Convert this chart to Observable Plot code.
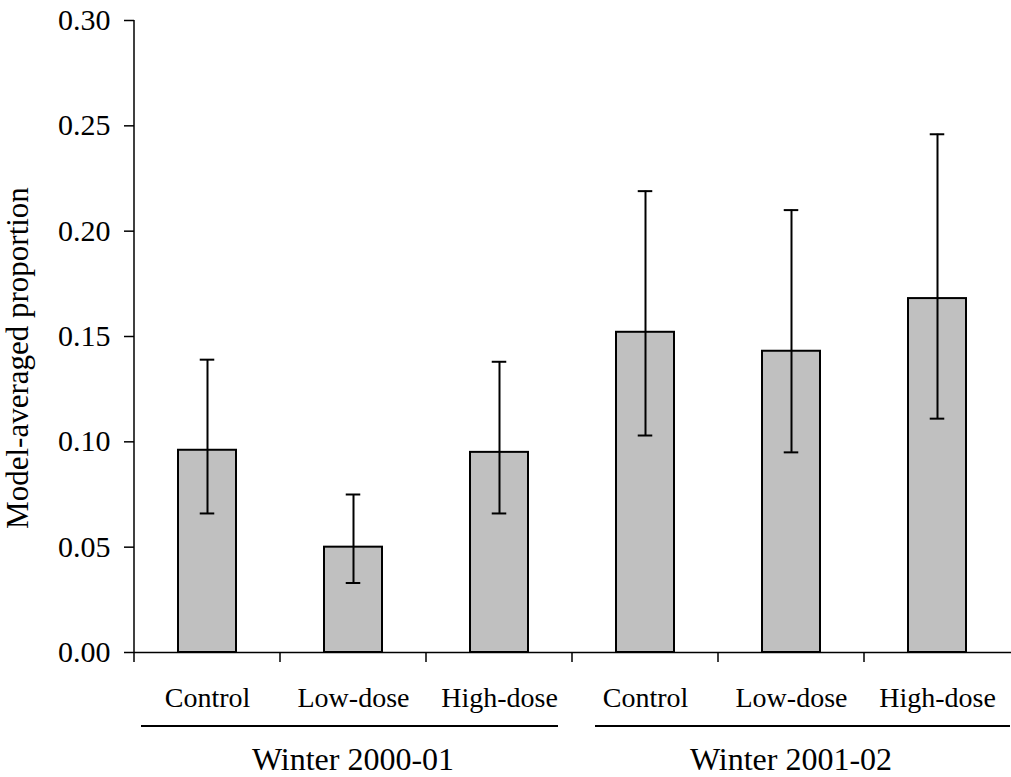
<!DOCTYPE html>
<html><head><meta charset="utf-8">
<script src="https://cdn.jsdelivr.net/npm/d3@7"></script>
<script src="https://cdn.jsdelivr.net/npm/@observablehq/plot@0.6"></script>
<style>
body{margin:0;background:#fff}
#chart svg{font-family:"Liberation Serif","Times New Roman",serif;}
</style>
</head><body><div id="chart"></div>
<script>
const winters = ["Winter 2000-01","Winter 2000-01","Winter 2000-01","Winter 2001-02","Winter 2001-02","Winter 2001-02"];
const treatments = ["Control","Low-dose","High-dose","Control","Low-dose","High-dose"];
const proportions = [0.096, 0.050, 0.095, 0.152, 0.143, 0.168];
const lowerCI = [0.066, 0.033, 0.066, 0.103, 0.095, 0.111];
const upperCI = [0.139, 0.075, 0.138, 0.219, 0.210, 0.246];
const yTicks = [0, 0.05, 0.10, 0.15, 0.20, 0.25, 0.30];
const groupNames = ["Winter 2000-01", "Winter 2001-02"];
const yTitle = "Model-averaged proportion";

const data = treatments.map((t, i) => ({
  key: winters[i] + "|" + t, winter: winters[i], treatment: t,
  p: proportions[i], lo: lowerCI[i], hi: upperCI[i]
}));

const W = 1011, H = 777, ML = 134, MT = 20, MB = 125, MR = 0;
const step = (W - ML - MR) / data.length;
const bandW = step * 0.4;
const capInset = (bandW - 15) / 2;

const chart = Plot.plot({
  width: W, height: H,
  marginLeft: ML, marginTop: MT, marginBottom: MB, marginRight: MR,
  style: {fontFamily: '"Liberation Serif","Times New Roman",serif', background: "#fff", color: "#000"},
  x: {domain: data.map(d => d.key), paddingInner: 0.6, paddingOuter: 0.3, label: null},
  y: {domain: [0, 0.30], label: null},
  marks: [
    Plot.barY(data, {x: "key", y: "p", fill: "#c0c0c0", stroke: "#000", strokeWidth: 2}),
    Plot.ruleX(data, {x: "key", y1: "lo", y2: "hi", stroke: "#000", strokeWidth: 2}),
    Plot.tickY(data, {x: "key", y: "hi", stroke: "#000", strokeWidth: 2, insetLeft: capInset, insetRight: capInset}),
    Plot.tickY(data, {x: "key", y: "lo", stroke: "#000", strokeWidth: 2, insetLeft: capInset, insetRight: capInset}),
    Plot.ruleY([0], {stroke: "#000", strokeWidth: 1.5}),
    Plot.axisY({className: "yax", ticks: yTicks, tickFormat: d => d.toFixed(2), tickSize: 10, tickPadding: 14, fontSize: 30, label: null, stroke: "#000", strokeWidth: 1.5}),
    Plot.axisX({className: "xax", tickSize: 0, tickPadding: 35, fontSize: 28, tickFormat: k => k.split("|")[1], label: null})
  ]
});

const svg = d3.select(chart);
svg.selectAll(".yax text, .yax").attr("font-size", 30);
svg.selectAll(".xax text, .xax").attr("font-size", 28);
const sx = chart.scale("x"), sy = chart.scale("y");
const xs = sx.step;
const center = k => sx.apply(k) + sx.bandwidth / 2;
const y0 = sy.apply(0), yTop = sy.apply(0.30);

// y-axis line
svg.append("line").attr("x1", ML).attr("x2", ML).attr("y1", yTop).attr("y2", y0)
  .attr("stroke", "#000").attr("stroke-width", 1.5);

// category boundary ticks
data.forEach(d => {
  const bx = center(d.key) - xs / 2;
  svg.append("line").attr("x1", bx).attr("x2", bx).attr("y1", y0).attr("y2", y0 + 10)
    .attr("stroke", "#000").attr("stroke-width", 1.5);
});

// group underlines and labels
const insets = [[7, 14], [23, 0]];
groupNames.forEach((g, gi) => {
  const keys = data.filter(d => d.winter === g).map(d => d.key);
  const start = center(keys[0]) - xs / 2;
  const end = Math.min(center(keys[keys.length - 1]) + xs / 2, W);
  const mid = center(keys[Math.floor(keys.length / 2)]);
  svg.append("line").attr("x1", start + insets[gi][0]).attr("x2", end - insets[gi][1])
    .attr("y1", y0 + 74).attr("y2", y0 + 74).attr("stroke", "#000").attr("stroke-width", 2);
  svg.append("text").attr("x", mid).attr("y", y0 + 118).attr("text-anchor", "middle")
    .attr("font-size", 32).attr("fill", "#000").text(g);
});

// y-axis title
svg.append("text").attr("transform", `translate(28,${(yTop + y0) / 2 + 22}) rotate(-90)`)
  .attr("text-anchor", "middle").attr("font-size", 31).attr("fill", "#000").text(yTitle);

document.getElementById("chart").appendChild(chart);
</script>
</body></html>
